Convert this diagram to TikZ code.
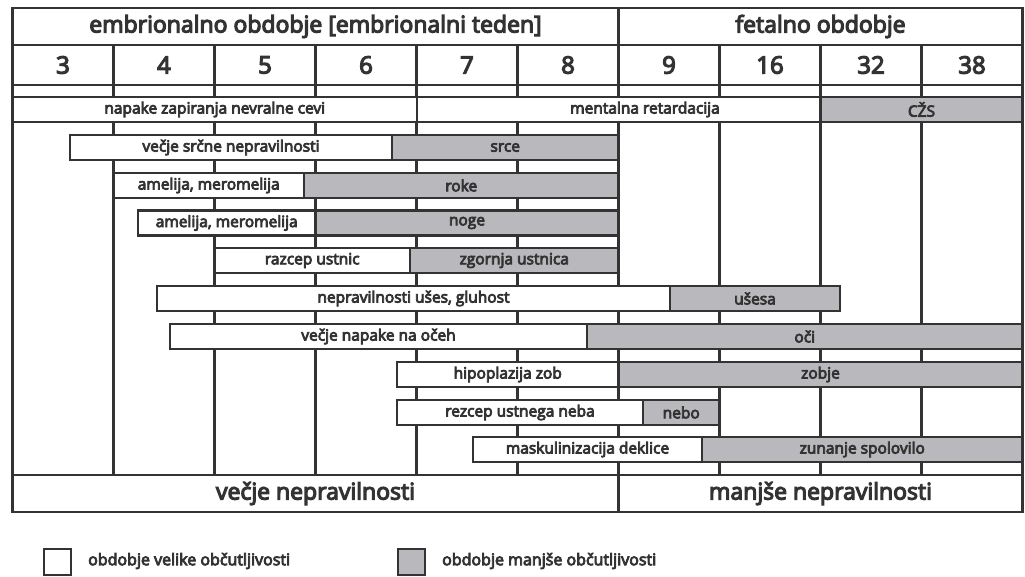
\documentclass[tikz,border=0pt]{standalone}
\usepackage{fontspec}
\setmainfont{Open Sans}[FakeBold=5]
\definecolor{ln}{HTML}{333333}
\definecolor{gf}{HTML}{B9B9BD}
\definecolor{tx}{HTML}{333333}
\begin{document}
\begin{tikzpicture}[x=1pt,y=-1pt,
  grid/.style={draw=ln,line width=2.4pt},
  segbase/.style={draw=ln,line width=2.4pt,inner sep=0pt,outer sep=0pt,anchor=north west,minimum height=25pt,text=tx,font=\fontsize{15.5}{17}\selectfont},
  wseg/.style={segbase,fill=white},
  gseg/.style={segbase,fill=gf},
  head/.style={text=tx,font=\fontsize{23}{25}\selectfont,inner sep=0pt},
  numb/.style={text=tx,font=\fontsize{24}{26}\selectfont,inner sep=0pt},
  lbl/.style={text=tx,font=\fontsize{15.5}{17}\selectfont,inner sep=0pt},
  leg/.style={text=tx,font=\fontsize{16}{18}\selectfont,inner sep=0pt},
  legbox/.style={draw=ln,line width=2.4pt,minimum width=27pt,minimum height=26pt,inner sep=0pt,anchor=north west}]
\useasboundingbox (0,0) rectangle (1025,577);
\fill[white] (0,0) rectangle (1025,577);
% grid
\foreach \i in {1,2,3,4,5,7,8,9}{
  \draw[grid] ({12.5+101*\i},45) -- ({12.5+101*\i},475);}
\draw[grid] (618.5,8) -- (618.5,512);
\draw[grid] (12.5,8) rectangle (1022.5,512);
\draw[grid] (12.5,45) -- (1022.5,45);
\draw[grid] (12.5,85) -- (1022.5,85);
\draw[grid] (12.5,475) -- (1022.5,475);
% headers
\node[head] (h1) at (315.5,26.5) {embrionalno obdobje [embrionalni teden]};
\node[head] (h2) at (820.5,26.5) {fetalno obdobje};
\foreach \n [count=\i from 0] in {3,4,5,6,7,8,9,16,32,38}{
  \node[numb] (n\i) at ({63+101*\i},65) {\n};}
\node[head] (f1) at (315.5,493.5) {večje nepravilnosti};
\node[head] (f2) at (820.5,493.5) {manjše nepravilnosti};
% bars
\newcommand\segm[6]{\node[#5,minimum width={(#3)-(#2)}] (#1) at (#2,#4) {#6};}
\segm{a1}{12.5}{417}{97}{wseg}{napake zapiranja nevralne cevi}
\segm{a2}{417}{820.5}{97}{wseg}{}
\node[lbl] (a2t) at (645,109.5) {mentalna retardacija};
\segm{a3}{820.5}{1022.5}{97}{gseg}{CŽS}
\segm{b1}{70}{392}{135}{wseg}{večje srčne nepravilnosti}
\segm{b2}{392}{618.5}{135}{gseg}{srce}
\segm{c1}{113.5}{304}{173}{wseg}{amelija, meromelija}
\segm{c2}{304}{618.5}{173}{gseg}{roke}
\segm{d1}{138}{315.5}{210.5}{wseg}{amelija, meromelija}
\segm{d2}{315.5}{618.5}{210.5}{gseg}{noge}
\segm{e1}{214.5}{410}{248}{wseg}{razcep ustnic}
\segm{e2}{410}{618.5}{248}{gseg}{zgornja ustnica}
\segm{f1b}{157}{670}{286}{wseg}{nepravilnosti ušes, gluhost}
\segm{f2b}{670}{840}{286}{gseg}{ušesa}
\segm{g1}{170}{587}{324}{wseg}{večje napake na očeh}
\segm{g2}{587}{1022.5}{324}{gseg}{oči}
\segm{h1b}{397}{618.5}{362}{wseg}{hipoplazija zob}
\segm{h2b}{618.5}{1022.5}{362}{gseg}{zobje}
\segm{i1}{397}{643}{400}{wseg}{rezcep ustnega neba}
\segm{i2}{643}{719.5}{400}{gseg}{nebo}
\segm{j1}{473}{702}{437}{wseg}{maskulinizacija deklice}
\segm{j2}{702}{1022.5}{437}{gseg}{zunanje spolovilo}
% legend
\node[legbox,fill=white] (lw) at (43,548) {};
\node[leg,anchor=west] (lwt) at (88,561) {obdobje velike občutljivosti};
\node[legbox,fill=gf] (lg) at (397,548) {};
\node[leg,anchor=west] (lgt) at (442,561) {obdobje manjše občutljivosti};
\end{tikzpicture}
\end{document}
